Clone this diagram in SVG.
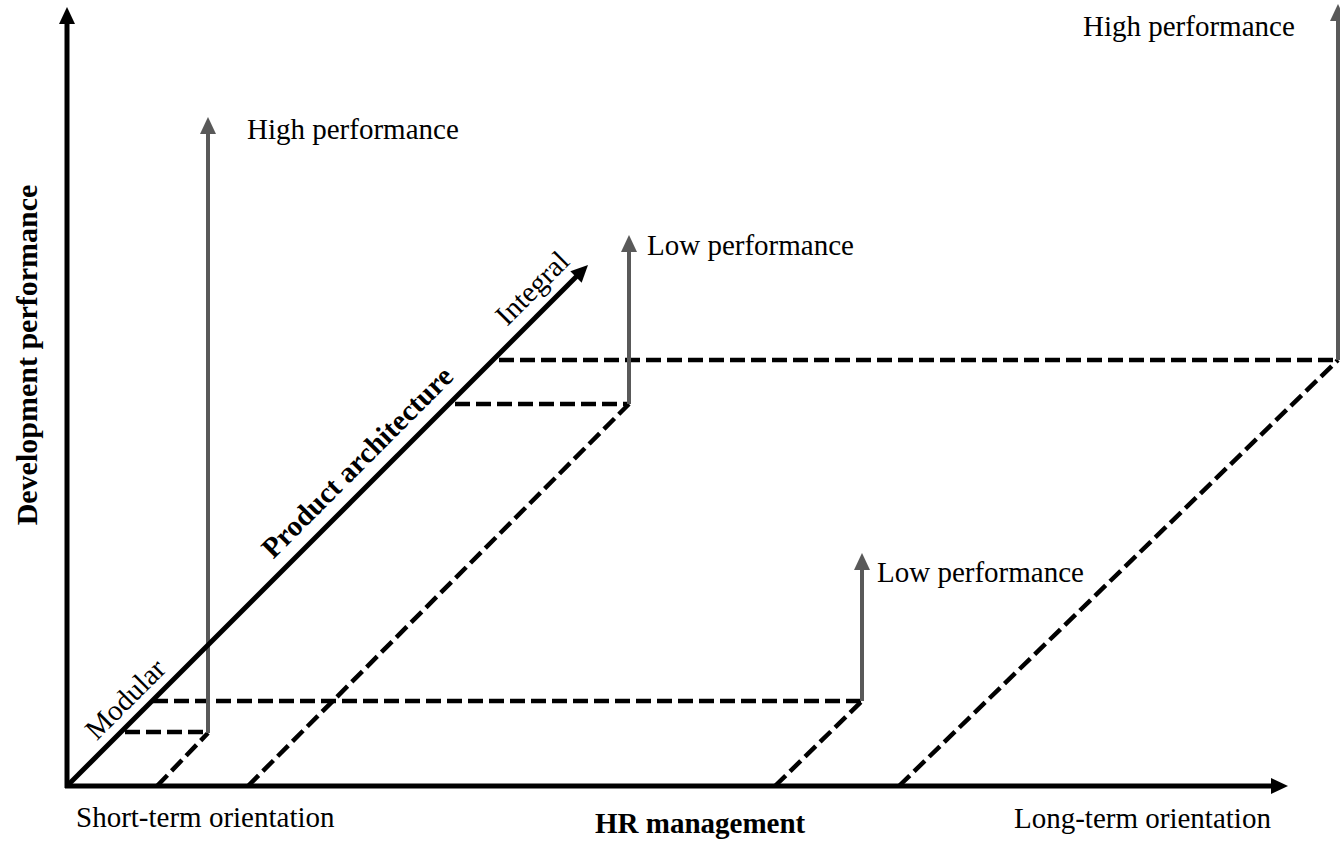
<svg xmlns="http://www.w3.org/2000/svg" width="1340" height="843" viewBox="0 0 1340 843">
<style>
.axis{stroke:#000;stroke-width:5;fill:none}
.dash{stroke:#000;stroke-width:4.5;fill:none;stroke-dasharray:15 6}
.perf{stroke:#595959;stroke-width:4;fill:none}
text{font-family:"Liberation Serif","Times New Roman",serif;font-size:29px;fill:#000}
.b{font-weight:bold}
</style>
<defs>
<marker id="ah" markerUnits="userSpaceOnUse" markerWidth="17" markerHeight="16" refX="1" refY="8" orient="auto" viewBox="0 0 17 16">
<path d="M0,0 L17,8 L0,16 z" fill="#000"/>
</marker>
<marker id="ahg" markerUnits="userSpaceOnUse" markerWidth="17" markerHeight="16" refX="1" refY="8" orient="auto" viewBox="0 0 17 16">
<path d="M0,0 L17,8 L0,16 z" fill="#595959"/>
</marker>
</defs>
<rect width="1340" height="843" fill="#fff"/>
<g id="connectors">
<line class="dash" x1="125" y1="732" x2="208" y2="732"/>
<line class="dash" x1="157" y1="786" x2="208" y2="733"/>
<line class="dash" x1="153" y1="701" x2="862" y2="701"/>
<line class="dash" x1="775" y1="786" x2="862" y2="701"/>
<line class="dash" x1="455" y1="404" x2="629" y2="404"/>
<line class="dash" x1="248" y1="786" x2="629" y2="404"/>
<line class="dash" x1="499" y1="360" x2="1338" y2="360"/>
<line class="dash" x1="899" y1="786" x2="1338" y2="360"/>
<line class="perf" x1="208" y1="733" x2="208" y2="133" marker-end="url(#ahg)"/>
<line class="perf" x1="629" y1="404" x2="629" y2="251" marker-end="url(#ahg)"/>
<line class="perf" x1="862" y1="701" x2="862" y2="569" marker-end="url(#ahg)"/>
<line class="perf" x1="1338" y1="360" x2="1338" y2="20" marker-end="url(#ahg)"/>
</g>
<g id="y-axis">
<line class="axis" x1="67" y1="788" x2="67" y2="23" marker-end="url(#ah)"/>
<text class="b" transform="translate(37,355) rotate(-90)" text-anchor="middle" style="font-size:30px">Development performance</text>
</g>
<g id="x-axis">
<line class="axis" x1="65" y1="786" x2="1272" y2="786" marker-end="url(#ah)"/>
<text x="76" y="827">Short-term orientation</text>
<text class="b" x="595" y="833">HR management</text>
<text x="1014" y="828">Long-term orientation</text>
</g>
<g id="product-architecture">
<line class="axis" x1="67" y1="786" x2="576.7" y2="276.3" marker-end="url(#ah)"/>
<text class="b" transform="translate(364,469) rotate(-45)" text-anchor="middle">Product architecture</text>
<text transform="translate(132,706) rotate(-45)" text-anchor="middle">Modular</text>
<text transform="translate(539,295) rotate(-45)" text-anchor="middle">Integral</text>
</g>
<g id="label-high-1"><text x="247" y="139">High performance</text></g>
<g id="label-low-1"><text x="647" y="255">Low performance</text></g>
<g id="label-low-2"><text x="877" y="582">Low performance</text></g>
<g id="label-high-2"><text x="1083" y="36">High performance</text></g>
</svg>
